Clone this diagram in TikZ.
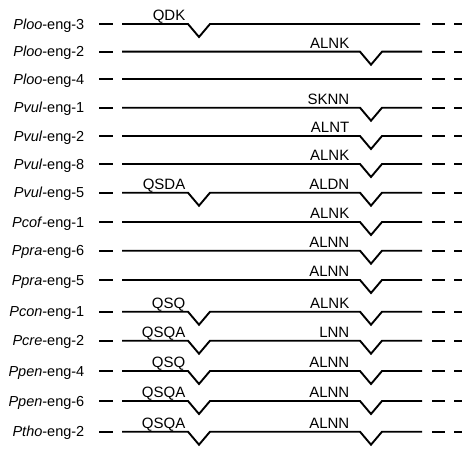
\documentclass[tikz,border=0pt]{standalone}
\usepackage{fontspec}
\setmainfont{Liberation Sans}
\tikzset{
  seq/.style={line width=1.9pt},
  nm/.style={anchor=base east, inner sep=0pt, font=\fontsize{14.5}{17}\selectfont},
  site/.style={anchor=base east, inner sep=0pt, font=\fontsize{15}{18}\selectfont},
}
\newcommand\seqrow[6]{%
  % #1 id, #2 y, #3 name, #4 left site, #5 right site, #6 line end
  \node[nm] (n#1) at (84.5,#2+5.2) {#3};
  \draw[seq] (99,#2) -- (113,#2);
  \ifx\relax#4\relax\def\lpart{}\else
    \def\lpart{-- (188,#2) -- (199,#2+13) -- (210,#2)}%
    \node[site] (l#1) at (185.5,#2-3.3) {#4};\fi
  \ifx\relax#5\relax\def\rpart{}\else
    \def\rpart{-- (360,#2) -- (371,#2+13) -- (382,#2)}%
    \node[site] (r#1) at (349.5,#2-3.5) {#5};\fi
  \draw[seq,line join=miter] (122,#2) \lpart \rpart -- (#6,#2);
  \draw[seq] (432,#2) -- (445,#2);
  \draw[seq] (454,#2) -- (462,#2);
}
\begin{document}
\begin{tikzpicture}[x=1pt,y=-1pt]
\useasboundingbox (0,0) rectangle (474,452);
\seqrow{a}{24}{\textit{Ploo}-eng-3}{QDK}{}{420}
\seqrow{b}{51.7}{\textit{Ploo}-eng-2}{}{ALNK}{422}
\seqrow{c}{79.3}{\textit{Ploo}-eng-4}{}{}{422}
\seqrow{d}{107.7}{\textit{Pvul}-eng-1}{}{SKNN}{422}
\seqrow{e}{136}{\textit{Pvul}-eng-2}{}{ALNT}{422}
\seqrow{f}{164}{\textit{Pvul}-eng-8}{}{ALNK}{422}
\seqrow{g}{192.7}{\textit{Pvul}-eng-5}{QSDA}{ALDN}{422}
\seqrow{h}{222}{\textit{Pcof}-eng-1}{}{ALNK}{422}
\seqrow{i}{250.7}{\textit{Ppra}-eng-6}{}{ALNN}{422}
\seqrow{j}{280}{\textit{Ppra}-eng-5}{}{ALNN}{422}
\seqrow{k}{311.7}{\textit{Pcon}-eng-1}{QSQ}{ALNK}{422}
\seqrow{l}{340.7}{\textit{Pcre}-eng-2}{QSQA}{LNN}{422}
\seqrow{m}{371}{\textit{Ppen}-eng-4}{QSQ}{ALNN}{422}
\seqrow{o}{401}{\textit{Ppen}-eng-6}{QSQA}{ALNN}{422}
\seqrow{p}{431.7}{\textit{Ptho}-eng-2}{QSQA}{ALNN}{422}
\end{tikzpicture}
\end{document}
